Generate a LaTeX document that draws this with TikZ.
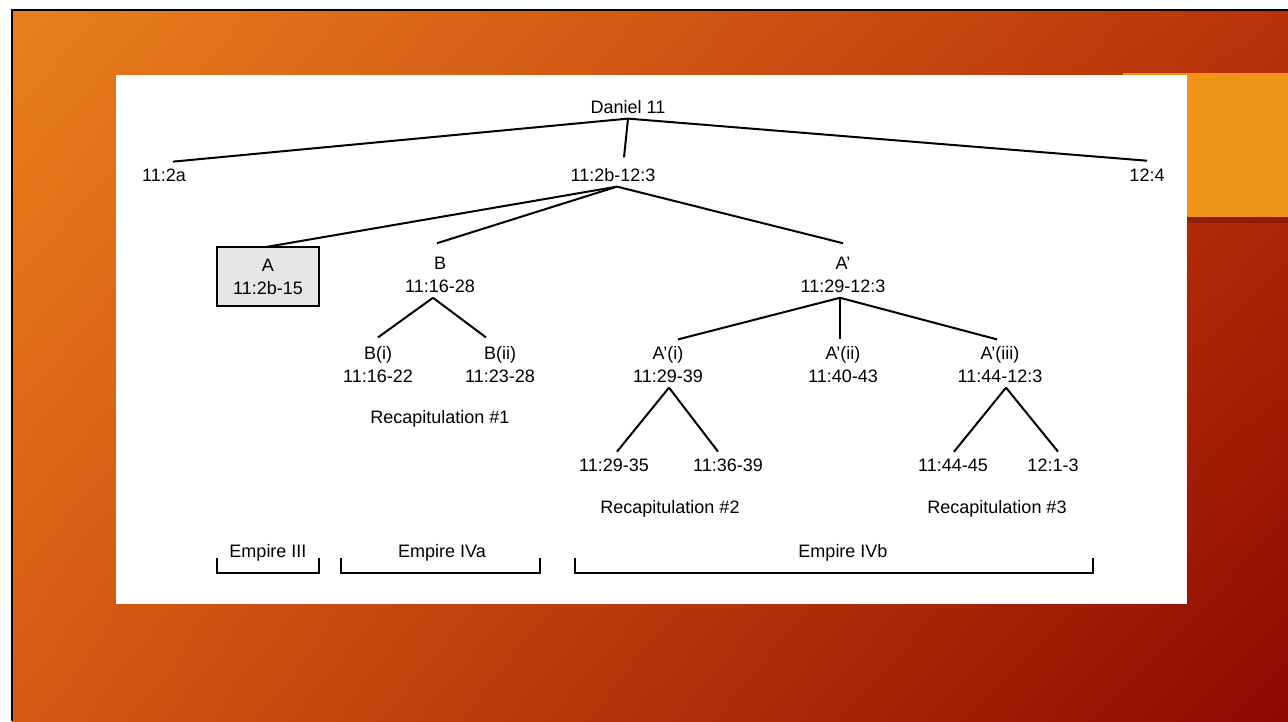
\documentclass[tikz,border=0pt]{standalone}
\usepackage{fontspec}
\setmainfont{Liberation Sans}
\usepackage{tikz}
\usetikzlibrary{shadings}
\definecolor{gradTL}{HTML}{E8801E}
\definecolor{gradTR}{HTML}{BA320A}
\definecolor{gradBL}{HTML}{D65A12}
\definecolor{gradBR}{HTML}{8E0800}
\definecolor{accent}{HTML}{F09418}
\definecolor{boxgray}{HTML}{E6E6E6}
\begin{document}
\begin{tikzpicture}[x=1pt,y=-1pt]
			\tikzstyle{every node}+=[inner sep=0pt]
			\tikzstyle{lbl}=[font=\fontsize{18}{23}\selectfont, align=center, outer sep=5pt]
			\tikzstyle{branch}=[black, line width=2pt]
			\useasboundingbox (0,0) rectangle (1288,721);
			\fill [white] (0,0) rectangle (1288,721);
			\shade [upper left=gradTL, upper right=gradTR, lower left=gradBL, lower right=gradBR] (12,10) rectangle (1288,721);
			\draw [black, line width=2pt] (12,721) -- (12,10) -- (1288,10);
			\fill [black!70!red, opacity=0.3] (1123,217) rectangle (1288,223);
			\fill [accent] (1123,73) rectangle (1288,217);
			\fill [white] (116,75) rectangle (1187,604);
			\node [lbl] (d11) at (628,107) {Daniel 11};
			\node [lbl] (v2a) at (164,175) {11:2a};
			\node [lbl] (v2b) at (613,175) {11:2b-12:3};
			\node [lbl] (v4) at (1147,175) {12:4};
			\node [lbl, draw, fill=boxgray, line width=2pt, minimum width=102pt, minimum height=59pt, outer sep=0pt] (secA) at (268,276.5) {A\\11:2b-15};
			\node [lbl] (secB) at (440,275) {B\\11:16-28};
			\node [lbl] (secAp) at (843,275) {A’\\11:29-12:3};
			\node [lbl] (secBi) at (378,364.5) {B(i)\\11:16-22};
			\node [lbl] (secBii) at (500,364.5) {B(ii)\\11:23-28};
			\node [lbl] (secApi) at (668,364.5) {A’(i)\\11:29-39};
			\node [lbl] (secApii) at (843,364.5) {A’(ii)\\11:40-43};
			\node [lbl] (secApiii) at (1000,364.5) {A’(iii)\\11:44-12:3};
			\node [lbl] (v2935) at (614,465) {11:29-35};
			\node [lbl] (v3639) at (728,465) {11:36-39};
			\node [lbl] (v4445) at (953,465) {11:44-45};
			\node [lbl] (v1213) at (1053,465) {12:1-3};
			\node [lbl] (recap1) at (440,419) {Recapitulation \#1};
			\node [lbl] (recap2) at (670,509) {Recapitulation \#2};
			\node [lbl] (recap3) at (997,509) {Recapitulation \#3};
			\node [lbl] (empIII) at (268,553) {Empire III};
			\node [lbl] (empIVa) at (442,553) {Empire IVa};
			\node [lbl] (empIVb) at (843,553) {Empire IVb};
			\draw [branch] (d11.south) -- ([xshift=9pt,yshift=2pt]v2a.north);
			\draw [branch] (d11.south) -- ([xshift=11pt,yshift=6pt]v2b.north);
			\draw [branch] (d11.south) -- ([yshift=3pt]v4.north);
			\draw [branch] ([xshift=4pt]v2b.south) -- ([xshift=-2pt]secA.north);
			\draw [branch] ([xshift=4pt]v2b.south) -- ([xshift=-3pt,yshift=9pt]secB.north);
			\draw [branch] ([xshift=4pt]v2b.south) -- ([yshift=9pt]secAp.north);
			\draw [branch] ([xshift=-7pt]secB.south) -- ([yshift=4pt]secBi.north);
			\draw [branch] ([xshift=-7pt]secB.south) -- ([xshift=-14pt,yshift=4pt]secBii.north);
			\draw [branch] ([xshift=-3pt]secAp.south) -- ([xshift=10pt,yshift=2pt]secApi.north);
			\draw [branch] ([xshift=-3pt]secAp.south) -- ([xshift=-3pt,yshift=2pt]secApii.north);
			\draw [branch] ([xshift=-3pt]secAp.south) -- ([xshift=-3pt,yshift=2pt]secApiii.north);
			\draw [branch] ([xshift=1pt]secApi.south) -- ([xshift=3pt,yshift=2pt]v2935.north);
			\draw [branch] ([xshift=1pt]secApi.south) -- ([xshift=-10pt,yshift=2pt]v3639.north);
			\draw [branch] ([xshift=6pt]secApiii.south) -- ([xshift=1pt,yshift=2pt]v4445.north);
			\draw [branch] ([xshift=6pt]secApiii.south) -- ([xshift=5pt,yshift=2pt]v1213.north);
			\draw [branch] (217,558) -- (217,573) -- (319,573) -- (319,558);
			\draw [branch] (341,558) -- (341,573) -- (540,573) -- (540,558);
			\draw [branch] (575,558) -- (575,573) -- (1093,573) -- (1093,558);
\end{tikzpicture}
\end{document}
